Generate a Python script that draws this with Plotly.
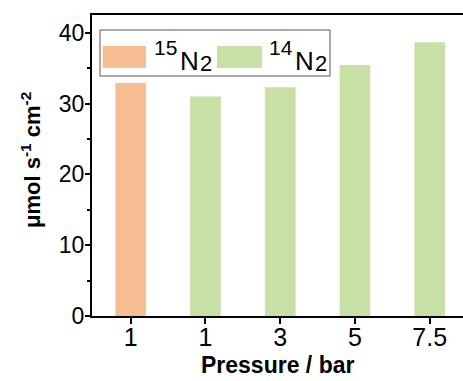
import plotly.graph_objects as go

categories = ["1", "1", "3", "5", "7.5"]
positions = [0, 1, 2, 3, 4]
series_15 = [32.9]
series_14 = [31.0, 32.3, 35.45, 38.65]
isotopes = ["15", "14"]
colors = ["#F7BE92", "#C8DFA5"]

W, H = 463, 381
L, R, T, B = 92, 0, 15, 65
pw, ph = W - L - R, H - T - B

def px(x):
    return (x - L) / pw

def py(y):
    return (H - B - y) / ph

FONT = "Liberation Sans, Arial, sans-serif"

fig = go.Figure()
fig.add_trace(go.Bar(x=positions[:1], y=series_15, width=0.41, marker_color=colors[0],
                     marker_line_width=0, showlegend=False))
fig.add_trace(go.Bar(x=positions[1:], y=series_14, width=0.41, marker_color=colors[1],
                     marker_line_width=0, showlegend=False))

fig.update_layout(
    width=W, height=H,
    margin=dict(l=L, r=R, t=T, b=B),
    paper_bgcolor="white", plot_bgcolor="white",
    font=dict(family=FONT, color="black"),
    xaxis=dict(range=[-0.518, 4.445], tickvals=positions, ticktext=categories,
               showline=True, linecolor="black", linewidth=2, mirror=True,
               ticks="outside", ticklen=6, tickwidth=2, tickcolor="black",
               ticklabelstandoff=-8,
               showgrid=False, zeroline=False, tickfont=dict(size=25)),
    yaxis=dict(range=[0, 42.5], tickvals=[0, 10, 20, 30, 40],
               showline=True, linecolor="black", linewidth=2, mirror=False,
               ticks="outside", ticklen=5, tickwidth=2, tickcolor="black",
               ticklabelstandoff=-4,
               minor=dict(ticks="outside", ticklen=3, tickwidth=1.5, dtick=5, tickcolor="black"),
               showgrid=False, zeroline=False, tickfont=dict(size=23)),
)

ann = [
    dict(x=px(31), y=py(160), xref="paper", yref="paper", textangle=-90,
         text="<b>μmol s<sup>-1</sup> cm<sup>-2</sup></b>", showarrow=False,
         font=dict(size=22), xanchor="center", yanchor="middle"),
    dict(x=px(277), y=py(380), xref="paper", yref="paper",
         text="<b>Pressure / bar</b>", showarrow=False,
         font=dict(size=23), xanchor="center", yanchor="bottom"),
]
# legend texts: superscript isotope number, N, subscript 2
for iso, x0 in zip(isotopes, [152, 267]):
    ann.append(dict(x=px(x0), y=py(47), xref="paper", yref="paper", text=iso,
                    showarrow=False, font=dict(size=21), xanchor="left", yanchor="middle"))
    ann.append(dict(x=px(x0 + 26), y=py(60.5), xref="paper", yref="paper", text="N",
                    showarrow=False, font=dict(size=26), xanchor="left", yanchor="middle"))
    ann.append(dict(x=px(x0 + 46), y=py(63), xref="paper", yref="paper", text="2",
                    showarrow=False, font=dict(size=22), xanchor="left", yanchor="middle"))

shapes = [
    dict(type="rect", xref="paper", yref="paper", x0=px(100), x1=px(330), y0=py(76), y1=py(30),
         line=dict(color="#555555", width=1), fillcolor="rgba(0,0,0,0)"),
    dict(type="rect", xref="paper", yref="paper", x0=px(102.7), x1=px(146), y0=py(68), y1=py(46),
         line=dict(width=0), fillcolor=colors[0]),
    dict(type="rect", xref="paper", yref="paper", x0=px(217), x1=px(262), y0=py(68), y1=py(46),
         line=dict(width=0), fillcolor=colors[1]),
]
fig.update_layout(annotations=ann, shapes=shapes)
fig.write_html("out.html")
